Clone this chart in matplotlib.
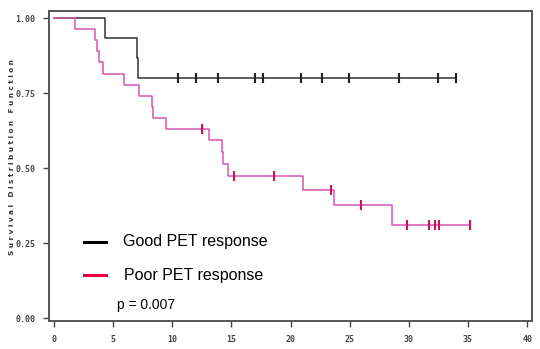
import numpy as np
import matplotlib
import matplotlib.pyplot as plt

matplotlib.use("Agg")

# Kaplan-Meier steps (time in months, survival)
good_times = [0, 4.3, 7.0, 7.1]
good_surv = [1.0, 0.933, 0.867, 0.80]
good_end = 34.0
good_censor = [10.5, 12.0, 13.9, 17.0, 17.7, 20.9, 22.7, 24.9, 29.2, 32.5, 34.0]

poor_times = [0, 1.75, 3.5, 3.6, 3.8, 4.15, 5.9, 7.2, 8.25, 8.35, 9.45,
              13.1, 14.2, 14.3, 14.7, 21.05, 23.7, 28.6]
poor_surv = [1.0, 0.963, 0.926, 0.889, 0.852, 0.815, 0.778, 0.741, 0.704, 0.667, 0.630,
             0.593, 0.553, 0.513, 0.474, 0.427, 0.377, 0.311]
poor_end = 35.2
poor_censor = [12.5, 15.2, 18.6, 23.4, 25.95, 29.85, 31.7, 32.2, 32.55, 35.2]

x_ticks = [0, 5, 10, 15, 20, 25, 30, 35, 40]
y_ticks = [0.0, 0.25, 0.5, 0.75, 1.0]


def surv_at(times, surv, t):
    idx = np.searchsorted(times, t, side="right") - 1
    return np.array(surv)[idx]


fig = plt.figure(figsize=(5.4, 3.49), dpi=100)
ax = fig.add_axes([0.0907, 0.0802, 0.8943, 0.8878])

good_col = "#333333"
poor_col = "#d455b3"
mark_col = "#d0105a"

ax.step(good_times + [good_end], good_surv + [good_surv[-1]], where="post",
        color=good_col, lw=1.1)
ax.plot(good_censor, surv_at(good_times, good_surv, good_censor), ls="none",
        marker="|", ms=7, mew=1.5, color="#222222")

ax.step(poor_times + [poor_end], poor_surv + [poor_surv[-1]], where="post",
        color=poor_col, lw=1.1)
ax.plot(poor_censor, surv_at(poor_times, poor_surv, poor_censor), ls="none",
        marker="|", ms=7, mew=1.5, color=mark_col)

# legend drawn by hand like the original
ax.plot([2.5, 4.4], [0.255, 0.255], color="black", lw=2.2)
ax.text(5.8, 0.255, "Good PET response", fontsize=11.5, family="Liberation Sans",
        va="center", ha="left")
ax.plot([2.5, 4.4], [0.142, 0.142], color="#e8003c", lw=2.2)
ax.text(5.9, 0.142, "Poor PET response", fontsize=11.5, family="Liberation Sans",
        va="center", ha="left")
ax.text(5.3, 0.043, "p = 0.007", fontsize=10, family="Liberation Sans",
        va="center", ha="left")

ax.set_xlim(-0.42, 40.4)
ax.set_ylim(-0.01, 1.023)
ax.set_xticks(x_ticks)
ax.set_yticks(y_ticks)
ax.set_xticklabels([str(t) for t in x_ticks])
ax.set_yticklabels([f"{t:.2f}" for t in y_ticks])

for lab in ax.get_xticklabels() + ax.get_yticklabels():
    lab.set_fontfamily("DejaVu Sans Mono")
    lab.set_fontweight("bold")
    lab.set_fontsize(6)

ax.tick_params(direction="out", length=4, width=1, colors="#444444", pad=6)
for sp in ax.spines.values():
    sp.set_color("#555555")
    sp.set_linewidth(1.4)

ax.set_ylabel(" ".join("Survival") + "   " + " ".join("Distribution") + "   " + " ".join("Function"),
              fontfamily="DejaVu Sans", fontweight="bold", fontsize=5.2,
              color="#333333")
ax.yaxis.set_label_coords(-0.071, 0.529)

plt.savefig("out.png", dpi=100, facecolor="white")
plt.close()
